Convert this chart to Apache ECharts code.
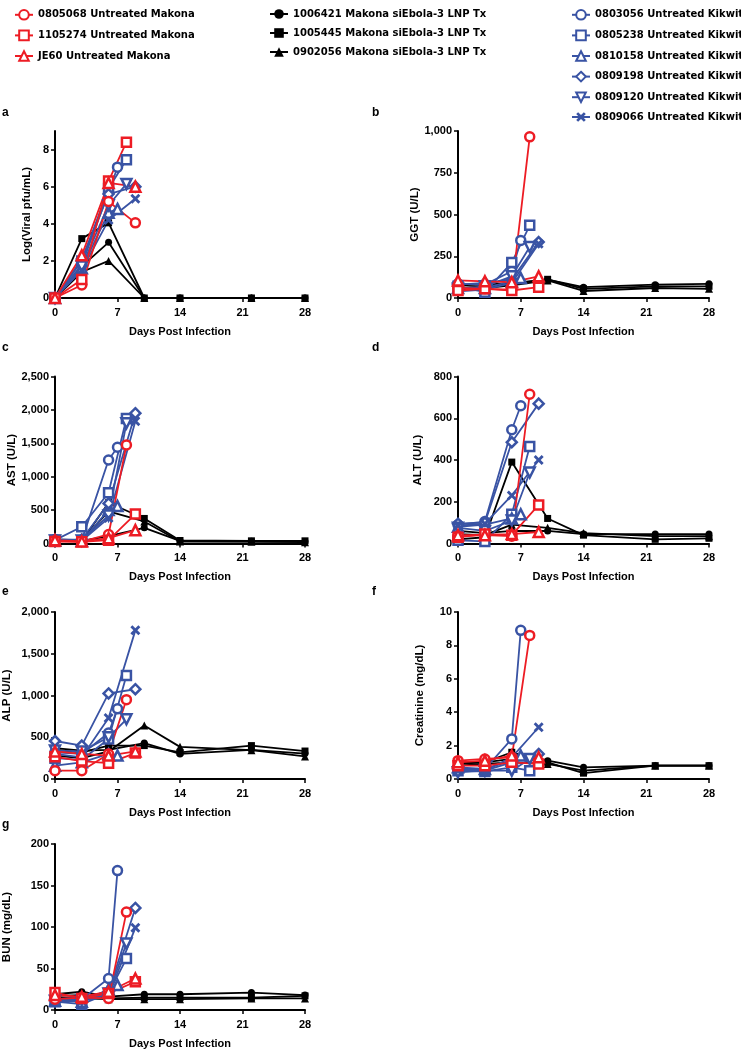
<!DOCTYPE html>
<html><head><meta charset="utf-8">
<script src="https://cdn.jsdelivr.net/npm/echarts@6/dist/echarts.min.js"></script>
<style>html,body{margin:0;padding:0;background:#fff}#c{width:741px;height:1050px}</style>
</head><body><div id="c"></div>
<script>
// ---------- names ----------
const redNames = ['0805068 Untreated Makona','1105274 Untreated Makona','JE60 Untreated Makona'];
const blackNames = ['1006421 Makona siEbola-3 LNP Tx','1005445 Makona siEbola-3 LNP Tx','0902056 Makona siEbola-3 LNP Tx'];
const blueNames = ['0803056 Untreated Kikwit','0805238 Untreated Kikwit','0810158 Untreated Kikwit','0809198 Untreated Kikwit','0809120 Untreated Kikwit','0809066 Untreated Kikwit'];

// ---------- sampling days ----------
const daysTx = [0,3,6,10,14,22,28];
const daysRed = [[0,3,6,8],[0,3,6,9],[0,3,6,9]];
const daysBlue = [[0,3,6,7],[0,3,6,8],[0,3,6,7],[0,3,6,9],[0,3,6,8],[0,3,6,9]];
const daysRedViral = [[0,3,6,9],[0,3,6,8],[0,3,6,9]];

// ---------- values (order: red, black, blue as in name lists) ----------
const viralRed = [[0,0.7,5.2,4.05],[0,1.0,6.3,8.4],[0,2.3,6.2,6.0]];
const viralBlack = [[0,1.7,3.0,0,0,0,0],[0,3.2,4.05,0,0,0,0],[0,1.4,2.0,0,0,0,0]];
const viralBlue = [[0,1.8,5.7,7.05],[0,2.0,5.9,7.45],[0,1.6,4.6,4.8],[0,2.1,5.6,6.0],[0,1.7,5.0,6.15],[0,1.5,4.2,5.35]];

const ggtRed = [[60,55,50,965],[45,55,45,65],[105,100,95,130]];
const ggtBlack = [[75,80,90,110,65,80,85],[60,70,85,112,55,70,70],[50,60,75,105,42,60,55]];
const ggtBlue = [[85,80,160,345],[70,35,212,435],[60,60,100,120],[80,90,110,335],[55,70,130,305],[40,50,90,325]];

const astRed = [[40,30,135,1475],[30,25,50,440],[50,30,80,200]];
const astBlack = [[50,40,110,235,40,35,30],[40,35,610,375,45,40,40],[60,45,480,330,30,25,20]];
const astBlue = [[60,50,1250,1440],[50,250,760,1870],[40,40,500,560],[55,60,600,1950],[45,45,420,1800],[35,40,380,1830]];

const altRed = [[35,40,35,715],[30,45,40,185],[40,40,45,55]];
const altBlack = [[60,50,60,60,45,45,45],[20,30,390,120,40,20,25],[45,40,90,75,50,35,35]];
const altBlue = [[90,105,545,660],[15,10,140,465],[80,90,120,140],[95,100,485,670],[75,60,110,340],[85,95,230,400]];

const alpRed = [[100,100,300,950],[265,215,190,310],[330,300,280,330]];
const alpBlack = [[370,340,350,430,300,350,305],[350,320,400,400,320,400,335],[280,250,330,640,385,345,270]];
const alpBlue = [[320,300,550,840],[250,230,480,1240],[160,200,300,280],[455,400,1025,1075],[340,330,500,715],[300,260,730,1780]];

const creRed = [[1.1,1.2,1.3,8.6],[0.8,0.8,1.0,0.9],[1.0,1.1,1.4,1.3]];
const creBlack = [[1.0,1.0,1.2,1.1,0.7,0.8,0.8],[0.9,1.0,1.6,1.0,0.35,0.8,0.8],[0.8,0.9,1.0,0.9,0.5,0.8,0.8]];
const creBlue = [[0.6,0.6,2.4,8.9],[0.5,0.45,0.7,0.5],[0.7,0.6,1.1,1.4],[0.6,0.5,1.0,1.5],[0.4,0.5,0.5,1.2],[0.5,0.5,1.3,3.1]];

const bunRed = [[13,15,14,118],[21,14,20,34],[18,16,22,38]];
const bunBlack = [[19,22,16,19,19,21,18],[17,18,14,15,15,15,17],[15,14,13,13,13,14,14]];
const bunBlue = [[12,13,38,168],[10,7,20,62],[11,10,25,30],[13,15,22,123],[11,12,20,80],[10,11,18,99]];

const xTicks = [0,7,14,21,28];

// ---------- styles ----------
const RED = '#ED1C24', BLUE = '#3953A4', BLACK = '#000000';
const XPATH = 'path://M2,0 L5,3 L8,0 L10,2 L7,5 L10,8 L8,10 L5,7 L2,10 L0,8 L3,5 L0,2 Z';
const redSym = [{s:'circle',z:9},{s:'rect',z:9},{s:'triangle',z:10}];
const blackSym = [{s:'circle',z:7},{s:'rect',z:7},{s:'triangle',z:8}];
const blueSym = [{s:'circle',z:9},{s:'rect',z:9},{s:'triangle',z:10},{s:'diamond',z:10},{s:'triangle',z:10,r:180},{s:XPATH,z:10,fill:true}];

const panels = [
  {letter:'a', name:'Log(Viral pfu/mL)', red:viralRed, black:viralBlack, blue:viralBlue, redDays:daysRedViral, max:9, interval:2, ticks:[0,2,4,6,8], gap:22, col:0, top:131},
  {letter:'b', name:'GGT (U/L)', red:ggtRed, black:ggtBlack, blue:ggtBlue, max:1000, interval:250, ticks:[0,250,500,750,1000], gap:36, col:1, top:131},
  {letter:'c', name:'AST (U/L)', red:astRed, black:astBlack, blue:astBlue, max:2500, interval:500, ticks:[0,500,1000,1500,2000,2500], gap:36, col:0, top:376.5},
  {letter:'d', name:'ALT (U/L)', red:altRed, black:altBlack, blue:altBlue, max:800, interval:200, ticks:[0,200,400,600,800], gap:34, col:1, top:376.5},
  {letter:'e', name:'ALP (U/L)', red:alpRed, black:alpBlack, blue:alpBlue, max:2000, interval:500, ticks:[0,500,1000,1500,2000], gap:42, col:0, top:612},
  {letter:'f', name:'Creatinine (mg/dL)', red:creRed, black:creBlack, blue:creBlue, max:10, interval:2, ticks:[0,2,4,6,8,10], gap:32, col:1, top:612},
  {letter:'g', name:'BUN (mg/dL)', red:bunRed, black:bunBlack, blue:bunBlue, max:200, interval:50, ticks:[0,50,100,150,200], gap:42, col:0, top:844}
];

const FONT = '"Liberation Sans", Arial, sans-serif';
const grids = [], xAxes = [], yAxes = [], series = [], graphics = [];
const fmt = v => v.toLocaleString('en-US');

function addSeries(i, name, color, sym, days, vals){
  const open = !sym.fill && color !== BLACK;
  series.push({
    type:'line', name, xAxisIndex:i, yAxisIndex:i, clip:false,
    data: days.map((d,k)=>[d, vals[k]]),
    symbol: sym.s, symbolSize: sym.z, symbolRotate: sym.r || 0, showAllSymbol:true,
    lineStyle:{color, width:1.8},
    itemStyle: open ? {color:'#ffffff', borderColor:color, borderWidth:2.5} : {color, borderColor:color, borderWidth:0},
    emphasis:{disabled:true}, animation:false
  });
}

panels.forEach((p,i)=>{
  const left = p.col === 0 ? 55 : 458;
  grids.push({left, top:p.top, width:p.col===0?250:251, height:167});
  xAxes.push({
    type:'value', gridIndex:i, min:0, max:28, interval:7,
    name:'Days Post Infection', nameLocation:'middle', nameGap:28,
    nameTextStyle:{fontFamily:FONT, fontWeight:'bold', fontSize:11, color:'#000'},
    axisLine:{show:true, onZero:false, lineStyle:{color:'#000', width:2}},
    axisTick:{show:true, length:4, lineStyle:{color:'#000', width:1.5}, customValues:xTicks},
    axisLabel:{fontFamily:FONT, fontWeight:'bold', fontSize:11, color:'#000', margin:9, customValues:xTicks},
    splitLine:{show:false}
  });
  yAxes.push({
    type:'value', gridIndex:i, min:0, max:p.max, interval:p.interval,
    name:p.name, nameLocation:'middle', nameGap:p.gap,
    nameTextStyle:{fontFamily:FONT, fontWeight:'bold', fontSize:11.5, color:'#000'},
    axisLine:{show:true, lineStyle:{color:'#000', width:2}},
    axisTick:{show:true, length:4, lineStyle:{color:'#000', width:1.5}, customValues:p.ticks},
    axisLabel:{fontFamily:FONT, fontWeight:'bold', fontSize:11, color:'#000', margin:6, formatter:fmt, customValues:p.ticks},
    splitLine:{show:false}
  });
  p.black.forEach((v,k)=>addSeries(i, blackNames[k], BLACK, blackSym[k], daysTx, v));
  p.blue.forEach((v,k)=>addSeries(i, blueNames[k], BLUE, blueSym[k], daysBlue[k], v));
  p.red.forEach((v,k)=>addSeries(i, redNames[k], RED, redSym[k], (p.redDays||daysRed)[k], v));
  const lx = p.col === 0 ? 2 : 372;
  const ly = {131:107, 376.5:342, 612:586, 844:819}[p.top];
  graphics.push({type:'text', left:lx, top:ly, style:{text:p.letter, font:'bold 12px '+FONT, fill:'#000'}});
});

const legText = {fontFamily:'"DejaVu Sans", sans-serif', fontWeight:'bold', fontSize:10, color:'#000'};
const legBase = {orient:'vertical', top:4, itemGap:9, itemWidth:18, itemHeight:12, textStyle:legText, selectedMode:false};

const chart = echarts.init(document.getElementById('c'), null, {renderer:'canvas'});
chart.setOption({
  animation:false,
  grid:grids, xAxis:xAxes, yAxis:yAxes, series,
  legend:[
    Object.assign({left:9, data:redNames}, legBase),
    Object.assign({left:264, data:blackNames}, legBase),
    Object.assign({left:566, data:blueNames}, legBase)
  ],
  graphic:graphics
});
</script></body></html>
